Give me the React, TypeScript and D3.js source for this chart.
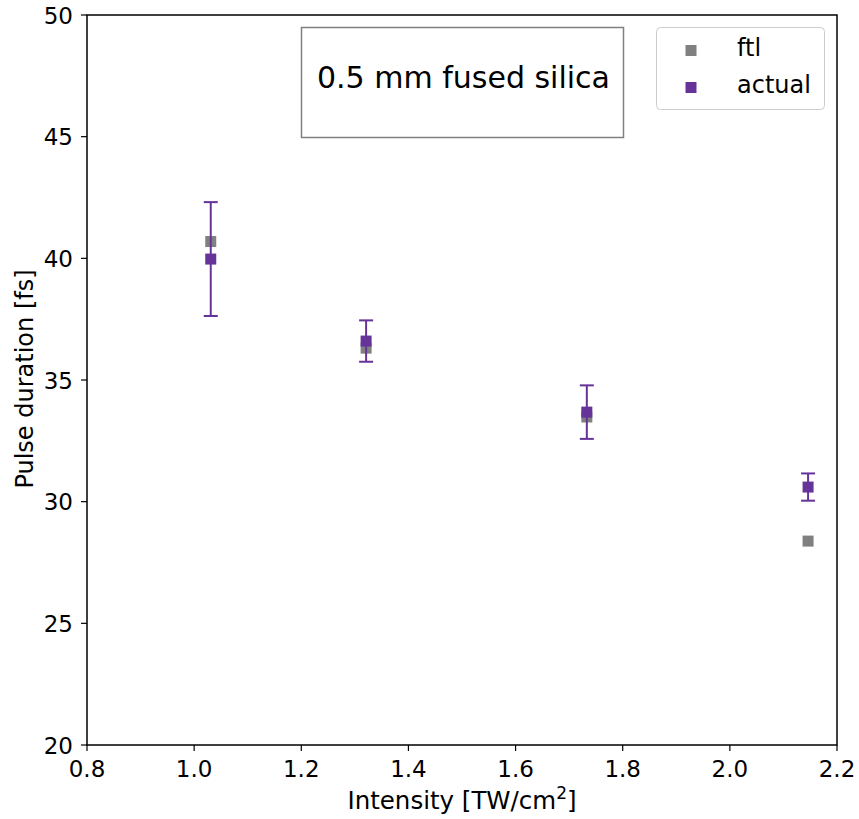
import React from "react";
import * as d3 from "d3";

const intensity = [1.031, 1.321, 1.733, 2.146];
const ftl = [40.69, 36.31, 33.48, 28.38];
const actual = [39.97, 36.6, 33.68, 30.6];
const actualErr = [2.34, 0.85, 1.1, 0.56];
const xTicks = [0.8, 1.0, 1.2, 1.4, 1.6, 1.8, 2.0, 2.2];
const yTicks = [20, 25, 30, 35, 40, 45, 50];

const W = 859, H = 819;
const L = 87, R = 837, T = 15, B = 745;
const FONT = "'DejaVu Sans', sans-serif";
const GRAY = "#808080";
const PURPLE = "#663399";

export default function App() {
  const x = d3.scaleLinear().domain([0.8, 2.2]).range([L, R]);
  const y = d3.scaleLinear().domain([20, 50]).range([B, T]);
  const ms = 11;
  const cap = 7;
  return (
    <svg width={W} height={H} style={{ position: "absolute", left: 0, top: 0 }}>
      <rect width={W} height={H} fill="white" />
      {/* text box */}
      <rect x={301.5} y={27.5} width={322} height={110} fill="white" stroke={GRAY} strokeWidth={1.5} />
      <text x={463.5} y={88} textAnchor="middle" fontFamily={FONT} fontSize={30} fill="black">0.5 mm fused silica</text>
      {/* legend */}
      <rect x={656.5} y={27.5} width={168} height={82} rx={4} fill="white" stroke="#cccccc" strokeWidth={1} />
      <rect x={691 - 5.5} y={50.5 - 5.5} width={11} height={11} fill={GRAY} />
      <text x={737} y={56} fontFamily={FONT} fontSize={24} fill="black">ftl</text>
      <rect x={691 - 5.5} y={87.5 - 5.5} width={11} height={11} fill={PURPLE} />
      <text x={737} y={93} fontFamily={FONT} fontSize={24} fill="black">actual</text>
      {/* ftl markers */}
      {intensity.map((v, i) => (
        <rect key={"f" + i} x={x(v) - ms / 2} y={y(ftl[i]) - ms / 2} width={ms} height={ms} fill={GRAY} />
      ))}
      {/* actual error bars + markers */}
      {intensity.map((v, i) => {
        const cx = x(v);
        const y1 = y(actual[i] + actualErr[i]);
        const y2 = y(actual[i] - actualErr[i]);
        return (
          <g key={"a" + i} stroke={PURPLE} strokeWidth={2}>
            <line x1={cx} x2={cx} y1={y1} y2={y2} />
            <line x1={cx - cap} x2={cx + cap} y1={y1} y2={y1} />
            <line x1={cx - cap} x2={cx + cap} y1={y2} y2={y2} />
            <rect x={cx - ms / 2} y={y(actual[i]) - ms / 2} width={ms} height={ms} fill={PURPLE} stroke="none" />
          </g>
        );
      })}
      {/* axes frame */}
      <rect x={L} y={T} width={R - L} height={B - T} fill="none" stroke="black" strokeWidth={1.5} />
      {xTicks.map((t) => (
        <g key={"xt" + t}>
          <line x1={x(t)} x2={x(t)} y1={B} y2={B + 6} stroke="black" strokeWidth={1.2} />
          <text x={x(t)} y={B + 32} textAnchor="middle" fontFamily={FONT} fontSize={23} fill="black">{t.toFixed(1)}</text>
        </g>
      ))}
      {yTicks.map((t) => (
        <g key={"yt" + t}>
          <line x1={L - 6} x2={L} y1={y(t)} y2={y(t)} stroke="black" strokeWidth={1.2} />
          <text x={L - 14} y={y(t) + 8.5} textAnchor="end" fontFamily={FONT} fontSize={23} fill="black">{t}</text>
        </g>
      ))}
      <text x={(L + R) / 2} y={809} textAnchor="middle" fontFamily={FONT} fontSize={24.5} fill="black">
        Intensity [TW/cm<tspan dy={-10} fontSize={17}>2</tspan><tspan dy={10}>]</tspan>
      </text>
      <text transform={`translate(33,${379}) rotate(-90)`} textAnchor="middle" fontFamily={FONT} fontSize={24} fill="black">Pulse duration [fs]</text>
    </svg>
  );
}
